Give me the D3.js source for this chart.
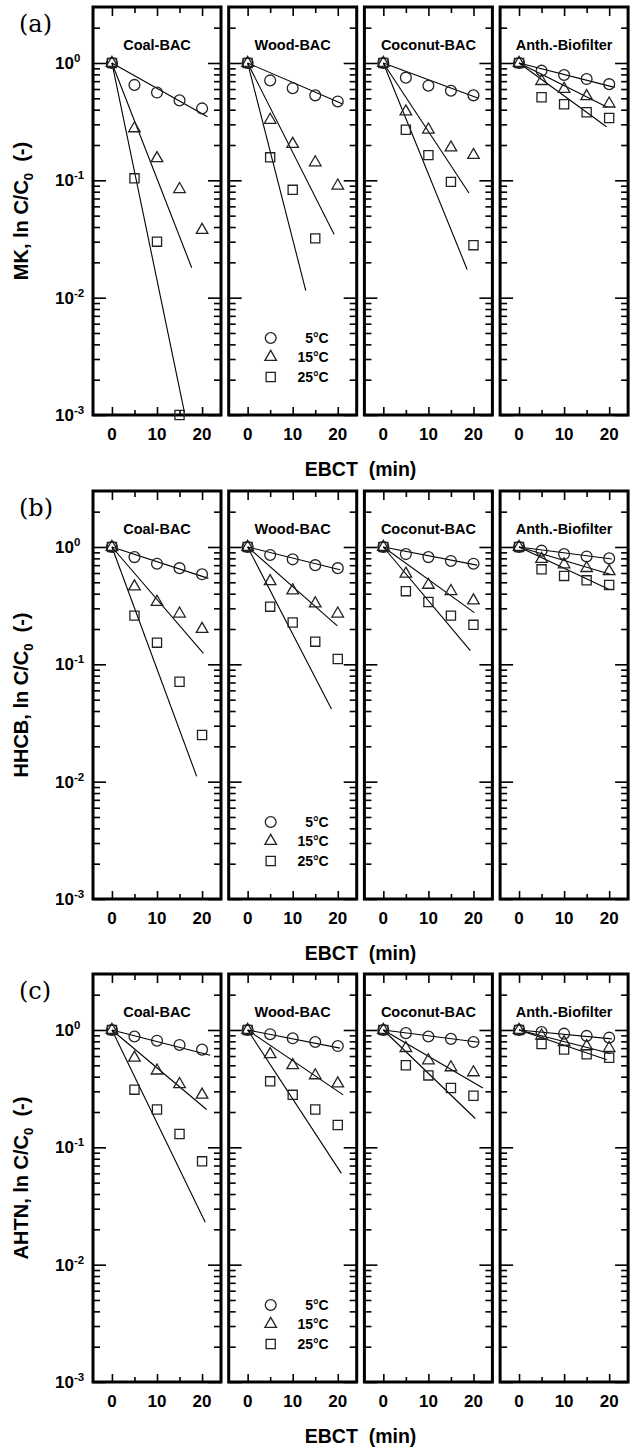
<!DOCTYPE html>
<html><head><meta charset="utf-8">
<script src="https://cdn.jsdelivr.net/npm/d3@7"></script>
<style>
body{margin:0;background:#fff}
svg{display:block}
text{font-family:"Liberation Sans",Arial,sans-serif;font-weight:bold;fill:#000;white-space:pre}
</style>
</head><body>
<svg id="chart" width="632" height="1448"></svg>
<script>
// ---------- data ----------
const panelLabels = ["(a)", "(b)", "(c)"];
const compounds = ["MK", "HHCB", "AHTN"];
const media = ["Coal-BAC", "Wood-BAC", "Coconut-BAC", "Anth.-Biofilter"];
const tempLabels = ["5", "15", "25"];
const ebct = [0, 5, 10, 15, 20];
const xMajorTicks = [0, 10, 20];
const xMinorTicks = [5, 15];
const yMajorTicks = [1e-3, 1e-2, 1e-1, 1];
const yTickExponents = ["-3", "-2", "-1", "0"];

// observed C/C0 : one row per medium, values at ebct
const MK_5C  = [[1,0.65,0.56,0.48,0.41],[1,0.71,0.61,0.53,0.47],[1,0.75,0.64,0.58,0.53],[1,0.86,0.79,0.73,0.66]];
const MK_15C = [[1,0.277,0.154,0.084,0.0377],[1,0.327,0.204,0.142,0.090],[1,0.385,0.27,0.19,0.164],[1,0.70,0.60,0.52,0.45]];
const MK_25C = [[1,0.104,0.030,0.001,null],[1,0.157,0.083,0.032,null],[1,0.27,0.164,0.097,0.028],[1,0.51,0.445,0.38,0.34]];
const HHCB_5C  = [[1,0.82,0.72,0.66,0.585],[1,0.855,0.785,0.70,0.66],[1,0.87,0.82,0.76,0.72],[1,0.93,0.87,0.83,0.80]];
const HHCB_15C = [[1,0.46,0.34,0.27,0.20],[1,0.51,0.425,0.33,0.27],[1,0.59,0.475,0.42,0.35],[1,0.79,0.71,0.66,0.62]];
const HHCB_25C = [[1,0.26,0.153,0.071,0.025],[1,0.31,0.227,0.156,0.111],[1,0.42,0.34,0.26,0.217],[1,0.645,0.567,0.52,0.475]];
const AHTN_5C  = [[1,0.88,0.81,0.745,0.68],[1,0.92,0.85,0.79,0.73],[1,0.94,0.88,0.84,0.79],[1,0.96,0.93,0.89,0.86]];
const AHTN_15C = [[1,0.58,0.45,0.345,0.28],[1,0.62,0.50,0.41,0.35],[1,0.70,0.55,0.48,0.435],[1,0.895,0.785,0.725,0.70]];
const AHTN_25C = [[1,0.31,0.21,0.13,0.076],[1,0.365,0.28,0.21,0.155],[1,0.50,0.41,0.32,0.275],[1,0.76,0.68,0.62,0.58]];

// fitted first-order lines: start at (0, 1), end at [EBCT, C/C0]; one per medium
const MK_5C_fit  = [[21.2,0.348],[21.1,0.447],[21.1,0.50],[21.2,0.62]];
const MK_15C_fit = [[17.7,0.018],[19.2,0.0346],[19.0,0.078],[19.6,0.42]];
const MK_25C_fit = [[16.1,0.00105],[12.9,0.0115],[18.6,0.0174],[19.4,0.286]];
const HHCB_5C_fit  = [[21.4,0.54],[20.5,0.64],[20.8,0.70],[20.6,0.79]];
const HHCB_15C_fit = [[20.3,0.124],[19.9,0.213],[20.2,0.276],[20.6,0.58]];
const HHCB_25C_fit = [[18.8,0.0111],[18.6,0.0416],[19.3,0.131],[19.9,0.436]];
const AHTN_5C_fit  = [[21.8,0.61],[20.5,0.70],[21.2,0.785],[20.6,0.84]];
const AHTN_15C_fit = [[21.0,0.21],[21.2,0.28],[22.1,0.32],[20.3,0.63]];
const AHTN_25C_fit = [[20.7,0.023],[20.8,0.06],[20.4,0.176],[19.5,0.557]];

const observed = [[MK_5C, MK_15C, MK_25C],[HHCB_5C, HHCB_15C, HHCB_25C],[AHTN_5C, AHTN_15C, AHTN_25C]];
const fits = [[MK_5C_fit, MK_15C_fit, MK_25C_fit],[HHCB_5C_fit, HHCB_15C_fit, HHCB_25C_fit],[AHTN_5C_fit, AHTN_15C_fit, AHTN_25C_fit]];

// ---------- layout ----------
const rowTops = [7, 491, 974];
const panelH = 408;
const colLeft0 = 93, colStep = 135.7, panelW = 128;
const symbols = [d3.symbolCircle, d3.symbolTriangle, d3.symbolSquare];
const symbolSizes = [92, 58, 84];

const svg = d3.select("#chart");
svg.append("rect").attr("width", 632).attr("height", 1448).attr("fill", "#fff");

// minor y tick values
const yMinor = [];
for (let e = -3; e <= 0; e++) for (let m = 2; m <= 9; m++) { const v = m * Math.pow(10, e); if (v < 2.99) yMinor.push(v); }

rowTops.forEach((top, r) => {
  const bottom = top + panelH;
  const y = d3.scaleLog().domain([1e-3, 3]).range([bottom, top]);

  // panel label
  svg.append("text").attr("x", 19).attr("y", top + 25)
    .style("font-family", "'DejaVu Serif','Liberation Serif',serif").style("font-weight", "normal")
    .style("font-size", "24px").text(panelLabels[r]);

  // y axis title
  const yt = svg.append("text")
    .attr("transform", `translate(28,${top + panelH / 2}) rotate(-90)`)
    .attr("text-anchor", "middle").style("font-size", "20px");
  yt.append("tspan").text(compounds[r] + ", ln C/C");
  yt.append("tspan").attr("dy", 5).style("font-size", "13px").text("0");
  yt.append("tspan").attr("dy", -5).text("  (-)");

  // y tick labels
  yMajorTicks.forEach((v, i) => {
    const t = svg.append("text").attr("x", colLeft0 - 38).attr("y", y(v) + 6).style("font-size", "17px");
    t.append("tspan").text("10");
    t.append("tspan").attr("dy", -7).style("font-size", "11.5px").text(yTickExponents[i]);
  });

  // x label
  svg.append("text").attr("x", colLeft0 + (3 * colStep + panelW) / 2).attr("y", bottom + 61)
    .attr("text-anchor", "middle").style("font-size", "19.5px").text("EBCT  (min)");

  media.forEach((med, c) => {
    const left = colLeft0 + c * colStep, right = left + panelW;
    const x = d3.scaleLinear().domain([-4.2, 24.2]).range([left, right]);
    const g = svg.append("g");

    const tickStyle = sel => { sel.select(".domain").remove(); sel.selectAll("line").attr("stroke", "#000").attr("stroke-width", 1.6); sel.selectAll("text").remove(); };
    // inward ticks
    g.append("g").attr("transform", `translate(0,${bottom})`).call(d3.axisBottom(x).tickValues(xMajorTicks).tickSize(-8).tickSizeOuter(0)).call(tickStyle);
    g.append("g").attr("transform", `translate(0,${bottom})`).call(d3.axisBottom(x).tickValues(xMinorTicks).tickSize(-5).tickSizeOuter(0)).call(tickStyle);
    g.append("g").attr("transform", `translate(0,${top})`).call(d3.axisTop(x).tickValues(xMajorTicks).tickSize(-9).tickSizeOuter(0)).call(tickStyle);
    g.append("g").attr("transform", `translate(0,${top})`).call(d3.axisTop(x).tickValues(xMinorTicks).tickSize(-6).tickSizeOuter(0)).call(tickStyle);
    g.append("g").attr("transform", `translate(${left},0)`).call(d3.axisLeft(y).tickValues(yMajorTicks).tickSize(-13).tickSizeOuter(0)).call(tickStyle);
    g.append("g").attr("transform", `translate(${left},0)`).call(d3.axisLeft(y).tickValues(yMinor).tickSize(-7).tickSizeOuter(0)).call(tickStyle);
    g.append("g").attr("transform", `translate(${right},0)`).call(d3.axisRight(y).tickValues(yMajorTicks).tickSize(-13).tickSizeOuter(0)).call(tickStyle);
    g.append("g").attr("transform", `translate(${right},0)`).call(d3.axisRight(y).tickValues(yMinor).tickSize(-7).tickSizeOuter(0)).call(tickStyle);

    // frame
    g.append("rect").attr("x", left).attr("y", top).attr("width", panelW).attr("height", panelH)
      .attr("fill", "none").attr("stroke", "#000").attr("stroke-width", 3);

    // x tick labels
    xMajorTicks.forEach(v => g.append("text").attr("x", x(v)).attr("y", bottom + 25)
      .attr("text-anchor", "middle").style("font-size", "17px").text(v));

    // title
    g.append("text").attr("x", (left + right) / 2).attr("y", top + 43).attr("text-anchor", "middle")
      .style("font-size", "14.5px").text(med);

    // fit lines
    [0, 1, 2].forEach(k => {
      const end = fits[r][k][c];
      g.append("line").attr("x1", x(0)).attr("y1", y(1)).attr("x2", x(end[0])).attr("y2", y(end[1]))
        .attr("stroke", "#000").attr("stroke-width", 1.1);
    });

    // markers
    [0, 1, 2].forEach(k => {
      const vals = observed[r][k][c];
      const pts = ebct.map((t, i) => [t, vals[i]]).filter(d => d[1] != null);
      g.selectAll(null).data(pts).enter().append("path")
        .attr("transform", d => `translate(${x(d[0])},${y(d[1])})`)
        .attr("d", d3.symbol().type(symbols[k]).size(symbolSizes[k]))
        .attr("fill", "none").attr("stroke", "#222").attr("stroke-width", 1.3);
    });

    // legend in Wood-BAC panel
    if (c === 1) {
      const legY = [331, 350, 370];
      tempLabels.forEach((tl, k) => {
        g.append("path").attr("transform", `translate(${left + 42},${top + legY[k]})`)
          .attr("d", d3.symbol().type(symbols[k]).size(symbolSizes[k]))
          .attr("fill", "none").attr("stroke", "#222").attr("stroke-width", 1.3);
        g.append("text").attr("x", left + 100).attr("y", top + legY[k] + 5).attr("text-anchor", "end")
          .style("font-size", "14px").text(tl + "°C");
      });
    }
  });
});
</script>
</body></html>
